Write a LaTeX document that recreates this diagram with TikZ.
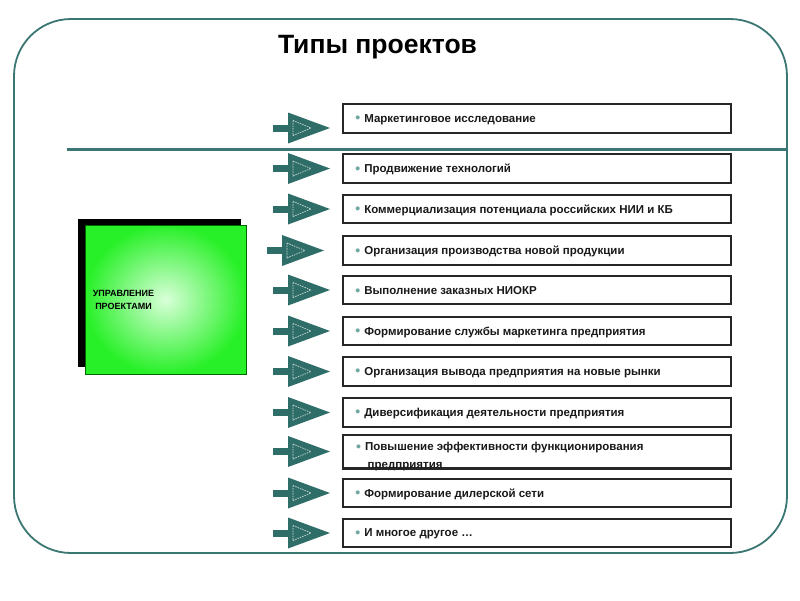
\documentclass[tikz,border=0pt]{standalone}
\usepackage{fontspec}
\setmainfont{Liberation Sans}
\begin{document}
\begin{tikzpicture}[x=1pt,y=-1pt]
\definecolor{tealc}{HTML}{2F6E68}
\definecolor{framec}{HTML}{3A7672}
\definecolor{bulc}{HTML}{6FA8A2}
\definecolor{grn}{RGB}{40,240,40}
\tikzset{
  itembox/.style={draw=black!85, line width=1.6pt, fill=white, minimum width=388pt, minimum height=28pt, inner sep=0pt},
  itemtext/.style={anchor=west, inner sep=0pt, font=\bfseries\fontsize{11.5}{18}\selectfont, text=black!90, align=left},
  pics/tarrow/.style={code={
    \fill[tealc] (0,-3.5) rectangle (17,3.5);
    \fill[tealc] (15,-15.5) -- (57,0) -- (15,15.5) -- cycle;
    \draw[white!75!tealc, line width=0.7pt, dash pattern=on 1.5pt off 1pt] (20,-7.5) -- (38,0) -- (20,7.5) -- cycle;
  }}
}
\newcommand{\bul}{\textcolor{bulc}{\raisebox{-0.5pt}{\fontsize{14}{14}\selectfont•}}\hspace{4pt}}
\useasboundingbox (0,0) rectangle (800,600);
\fill[white] (0,0) rectangle (800,600);
% frame
\draw[framec, line width=1.8pt, rounded corners=57pt] (14,19) rectangle (787,553);
% separator line
\draw[framec, line width=3pt] (67,149) -- (787,149);
% title
\node[font=\bfseries\fontsize{26.5}{30}\selectfont] (title) at (377.5,47) {Типы проектов};
% green block
\fill[black] (78,219) rectangle (241,367);
\path[shade, inner color=green!15!white, outer color=grn, draw=black!60!green, line width=0.6pt] (85,225) rectangle (246,374);
\node[font=\bfseries\fontsize{9}{13.5}\selectfont, align=center] (upr) at (123.5,300) {УПРАВЛЕНИЕ\\ПРОЕКТАМИ};
% boxes
\foreach \i/\y/\h/\ay/\ax/\t in {
 1/118.5/29/128/273/{Маркетинговое исследование},
 2/168.5/29/168.5/273/{Продвижение технологий},
 3/209/28/209/273/{Коммерциализация потенциала российских НИИ и КБ},
 4/250.5/29/250.5/267/{Организация производства новой продукции},
 5/290/28/290/273/{Выполнение заказных НИОКР},
 6/331/28/331/273/{Формирование службы маркетинга предприятия},
 7/371.5/29/371.5/273/{Организация вывода предприятия на новые рынки},
 8/412.5/29/412.5/273/{Диверсификация деятельности предприятия},
 10/493/28/493/273/{Формирование дилерской сети},
 11/533/28/533/273/{И многое другое \dots}
}{
  \node[itembox, minimum height=\h pt] (b\i) at (537,\y) {};
  \node[itemtext] (t\i) at ([xshift=13pt,yshift=-1pt]b\i.west) {\bul\t};
  \pic at (\ax,\ay) {tarrow};
}
% two-line box
\node[itembox, minimum height=33pt] (b9) at (537,451.5) {};
\node[itemtext, anchor=north west] (t9) at (356,442) {\bul Повышение эффективности функционирования\\\hspace{11.5pt}предприятия};
\draw[black!85, line width=1.6pt] (b9.south west) -- (b9.south east);
\pic at (273,451.5) {tarrow};
\end{tikzpicture}
\end{document}
